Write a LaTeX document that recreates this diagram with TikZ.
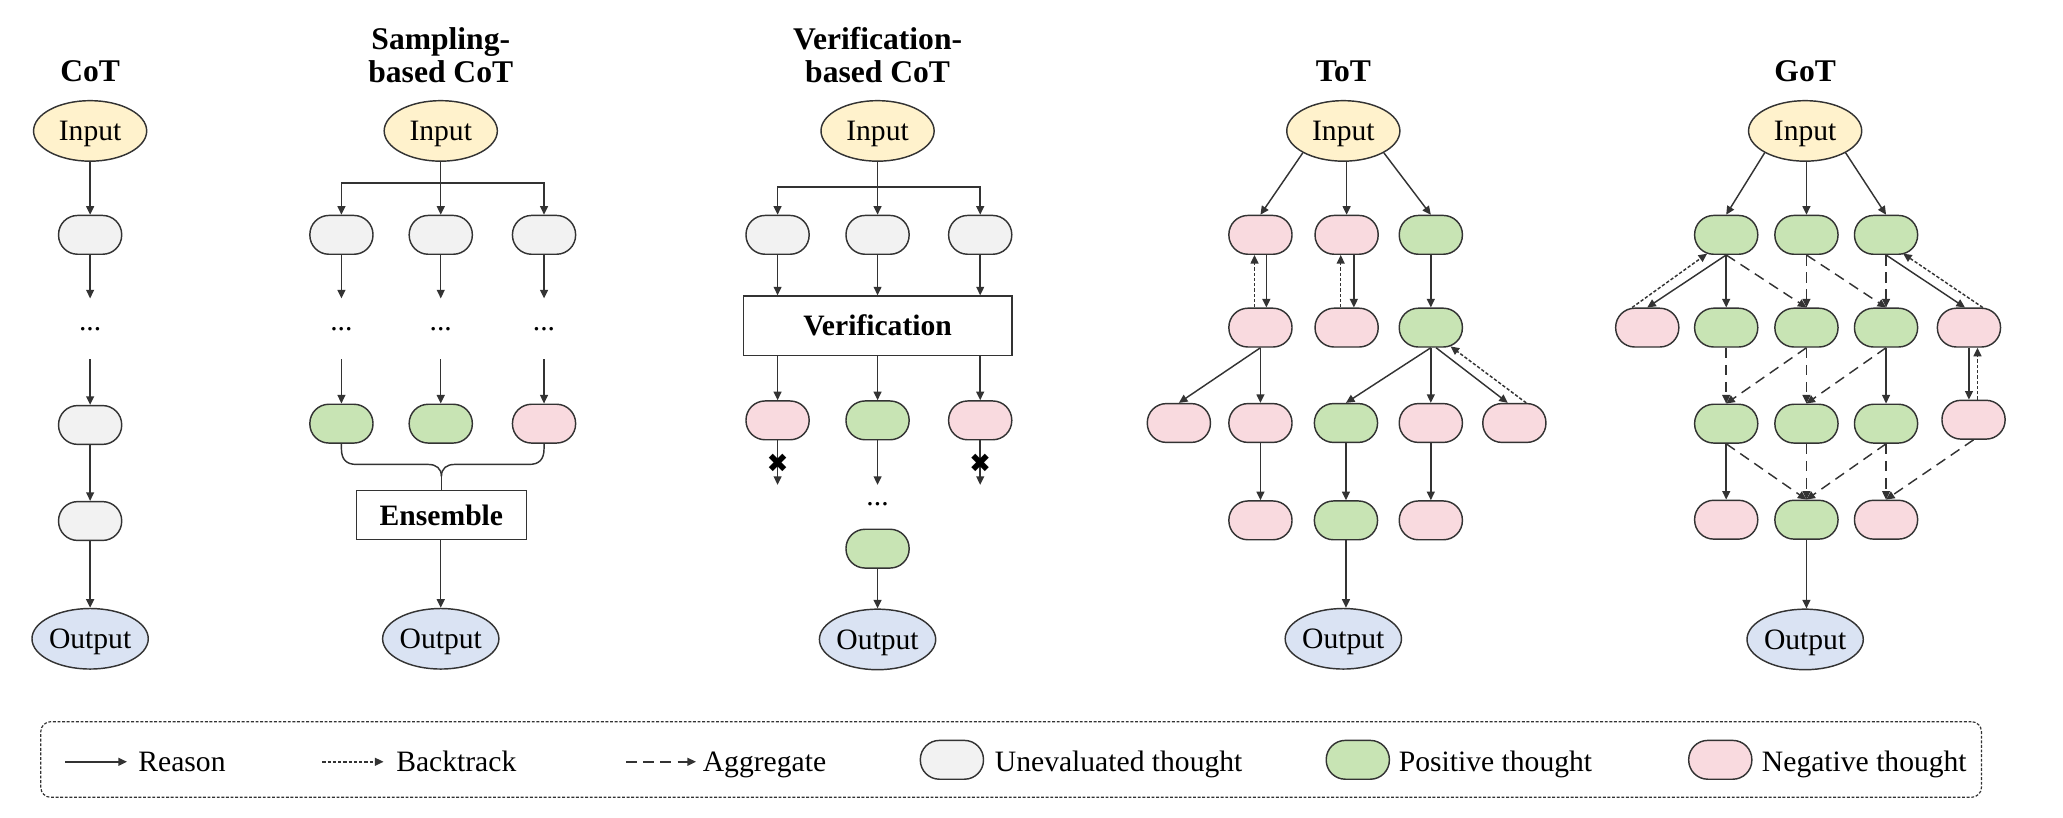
\documentclass[tikz,border=0pt]{standalone}
\usepackage{fontspec}
\setmainfont{Liberation Serif}
\newfontfamily\symfont{DejaVu Sans}
\usetikzlibrary{shapes.geometric,arrows.meta,calc}
\definecolor{dk}{HTML}{333333}
\definecolor{yellowf}{HTML}{FFF2CC}
\definecolor{bluef}{HTML}{DAE3F3}
\definecolor{grayf}{HTML}{F2F2F2}
\definecolor{greenf}{HTML}{C8E4B4}
\definecolor{pinkf}{HTML}{F9DADF}
\newcommand\myfs[1]{\fontsize{#1}{#1}\selectfont}
\tikzset{
  thought/.style={rectangle, rounded corners=14.5pt, minimum width=48pt, minimum height=29.5pt, inner sep=0pt, draw=dk, line width=1.1pt},
  unev/.style={thought, fill=grayf},
  posn/.style={thought, fill=greenf},
  negn/.style={thought, fill=pinkf},
  ell/.style={ellipse, draw=dk, line width=1.1pt, minimum width=86pt, minimum height=46pt, inner sep=0pt, text depth=0pt, font=\myfs{22.5}},
  inp/.style={ell, fill=yellowf},
  outp/.style={ell, fill=bluef},
  ttl/.style={font=\bfseries\fontsize{24}{25}\selectfont, align=center, inner sep=0pt},
  boxn/.style={rectangle, draw=dk, line width=1.1pt, fill=white, inner sep=0pt, font=\bfseries\myfs{22.5}},
  dotsn/.style={inner sep=0pt, minimum height=46pt, font=\myfs{22.5}},
  plain/.style={draw=dk, line width=1.1pt},
  arr/.style={plain, -{Triangle[length=6.5pt,width=6pt]}},
  backtr/.style={arr, dash pattern=on 2.5pt off 1.5pt},
  aggr/.style={arr, dash pattern=on 8pt off 5pt},
  xmark/.style={inner sep=0pt, font=\symfont\myfs{20}},
  legtext/.style={anchor=base west, inner sep=0pt, font=\myfs{22.5}},
}
\begin{document}
\begin{tikzpicture}[x=1pt,y=-1pt]
\useasboundingbox (0,0) rectangle (1568,621);

% ---------------- CoT ----------------
\node[ttl, anchor=base] (tcot) at (68.5,62) {CoT};
\node[inp] (cin) at (68.5,99.5) {Input};
\node[unev] (c1) at (68.5,178.5) {};
\node[dotsn] (cd) at (68.5,250) {...};
\node[unev] (c2) at (68.5,323) {};
\node[unev] (c3) at (68.5,396) {};
\node[outp] (cout) at (68.5,485.5) {Output};
\draw[arr] (cin.south) -- (c1.north);
\draw[arr] (c1.south) -- (cd.north);
\draw[arr] (cd.south) -- (c2.north);
\draw[arr] (c2.south) -- (c3.north);
\draw[arr] (c3.south) -- (cout.north);

% ---------------- Sampling-based CoT ----------------
\node[ttl, anchor=base] (tsamp) at (335,63) {Sampling-\\based CoT};
\node[inp] (sin) at (335,99.5) {Input};
\coordinate (sbar) at (335,139);
\node[unev] (s1) at (259.5,178.5) {};
\node[unev] (s2) at (335,178.5) {};
\node[unev] (s3) at (413.5,178.5) {};
\node[dotsn] (sd1) at (259.5,250) {...};
\node[dotsn] (sd2) at (335,250) {...};
\node[dotsn] (sd3) at (413.5,250) {...};
\node[posn] (sg1) at (259.5,322) {};
\node[posn] (sg2) at (335,322) {};
\node[negn] (sp3) at (413.5,322) {};
\node[boxn, minimum width=129pt, minimum height=37pt] (ens) at (335.5,391.5) {Ensemble};
\node[outp] (sout) at (335,485.5) {Output};
\draw[arr] (sin.south) -- (s2.north);
\draw[arr] (sbar) -| (s1.north);
\draw[arr] (sbar) -| (s3.north);
\foreach \i in {1,2,3}{
  \draw[arr] (s\i.south) -- (sd\i.north);
}
\draw[arr] (sd1.south) -- (sg1.north);
\draw[arr] (sd2.south) -- (sg2.north);
\draw[arr] (sd3.south) -- (sp3.north);
\coordinate (cusp) at (335.5,362);
\draw[plain] (sg1.south) -- (259.5,341) .. controls (259.5,349) and (263,353) .. (271,353) -- (325.5,353) .. controls (331.5,353) and (335.5,356) .. (cusp);
\draw[plain] (sp3.south) -- (413.5,341) .. controls (413.5,349) and (410,353) .. (402,353) -- (345.5,353) .. controls (339.5,353) and (335.5,356) .. (cusp);
\draw[plain] (cusp) -- (ens.north);
\draw[arr] (ens.south -| sout.north) -- (sout.north);

% ---------------- Verification-based CoT ----------------
\node[ttl, anchor=base] (tver) at (667,63) {Verification-\\based CoT};
\node[inp] (vin) at (667,99.5) {Input};
\coordinate (vbar) at (667,142);
\node[unev] (v1) at (591,178.5) {};
\node[unev] (v2) at (667,178.5) {};
\node[unev] (v3) at (745,178.5) {};
\node[boxn, minimum width=204pt, minimum height=45pt] (vbox) at (667,247.5) {Verification};
\node[negn] (vp1) at (591,319.5) {};
\node[posn] (vg2) at (667,319.5) {};
\node[negn] (vp3) at (745,319.5) {};
\coordinate (ve1) at (591,368.5);
\coordinate (ve2) at (667,368.5);
\coordinate (ve3) at (745,368.5);
\node[dotsn, minimum height=0pt] (vd) at (667,383) {...};
\node[posn] (vg4) at (667,417) {};
\node[outp] (vout) at (667,486) {Output};
\draw[arr] (vin.south) -- (v2.north);
\draw[arr] (vbar) -| (v1.north);
\draw[arr] (vbar) -| (v3.north);
\foreach \n in {v1,v2,v3}{
  \draw[arr] (\n.south) -- (\n.south |- vbox.north);
}
\foreach \n in {vp1,vg2,vp3}{
  \draw[arr] (vbox.south -| \n.north) -- (\n.north);
}
\draw[arr] (vp1.south) -- (ve1);
\draw[arr] (vg2.south) -- (ve2);
\draw[arr] (vp3.south) -- (ve3);
\node[xmark] (x1) at (591,352) {✖};
\node[xmark] (x3) at (745,352) {✖};
\draw[arr] (vg4.south) -- (vout.north);

% ---------------- ToT ----------------
\node[ttl, anchor=base] (ttot) at (1021,62) {ToT};
\node[inp] (tin) at (1021,99.5) {Input};
\node[negn] (t1a) at (958,178.5) {};
\node[negn] (t1b) at (1023.5,178.5) {};
\node[posn] (t1c) at (1087.5,178.5) {};
\node[negn] (t2a) at (958,249) {};
\node[negn] (t2b) at (1023.5,249) {};
\node[posn] (t2c) at (1087.5,249) {};
\node[negn] (t3a) at (896,321.5) {};
\node[negn] (t3b) at (958,321.5) {};
\node[posn] (t3c) at (1023,321.5) {};
\node[negn] (t3d) at (1087.5,321.5) {};
\node[negn] (t3e) at (1151,321.5) {};
\node[negn] (t4a) at (958,395.5) {};
\node[posn] (t4b) at (1023,395.5) {};
\node[negn] (t4c) at (1087.5,395.5) {};
\node[outp] (tout) at (1021,485.5) {Output};
\draw[arr] (tin.south west) -- (t1a.north);
\draw[arr] (t1b.north |- tin.south) -- (t1b.north);
\draw[arr] (tin.south east) -- (t1c.north);
\draw[arr] ([xshift=4.5pt]t1a.south) -- ([xshift=4.5pt]t2a.north);
\draw[backtr] ([xshift=-4.5pt]t2a.north) -- ([xshift=-4.5pt]t1a.south);
\draw[arr] ([xshift=5.5pt]t1b.south) -- ([xshift=5.5pt]t2b.north);
\draw[backtr] ([xshift=-4.5pt]t2b.north) -- ([xshift=-4.5pt]t1b.south);
\draw[arr] (t1c.south) -- (t2c.north);
\draw[arr] (t2a.south) -- (t3a.north);
\draw[arr] (t2a.south) -- (t3b.north);
\draw[arr] (t2c.south) -- (t3c.north);
\draw[arr] (t2c.south) -- (t3d.north);
\draw[arr] ([xshift=4pt]t2c.south) -- ([xshift=-5pt]t3e.north);
\draw[backtr] ([xshift=9pt]t3e.north) -- ([xshift=15pt,yshift=1pt]t2c.south);
\draw[arr] (t3b.south) -- (t4a.north);
\draw[arr] (t3c.south) -- (t4b.north);
\draw[arr] (t3d.south) -- (t4c.north);
\draw[arr] (t4b.south) -- (t4b.south |- tout.north);

% ---------------- GoT ----------------
\node[ttl, anchor=base] (tgot) at (1372,62) {GoT};
\node[inp] (gin) at (1372,99.5) {Input};
\node[posn] (g1a) at (1312,178.5) {};
\node[posn] (g1b) at (1373,178.5) {};
\node[posn] (g1c) at (1433.5,178.5) {};
\node[negn] (g2a) at (1252,249) {};
\node[posn] (g2b) at (1312,249) {};
\node[posn] (g2c) at (1373,249) {};
\node[posn] (g2d) at (1433.5,249) {};
\node[negn] (g2e) at (1496.5,249) {};
\node[posn] (g3a) at (1312,322) {};
\node[posn] (g3b) at (1373,322) {};
\node[posn] (g3c) at (1433.5,322) {};
\node[negn] (g3d) at (1500,319) {};
\node[negn] (g4a) at (1312,395) {};
\node[posn] (g4b) at (1373,395) {};
\node[negn] (g4c) at (1433.5,395) {};
\node[outp] (gout) at (1372,486) {Output};
\draw[arr] (gin.south west) -- (g1a.north);
\draw[arr] (g1b.north |- gin.south) -- (g1b.north);
\draw[arr] (gin.south east) -- (g1c.north);
\draw[arr] (g1a.south) -- (g2a.north);
\draw[backtr] ([xshift=-11.5pt]g2a.north) -- ([xshift=-14.5pt,yshift=1pt]g1a.south);
\draw[arr] (g1a.south) -- (g2b.north);
\draw[aggr] (g1a.south) -- (g2c.north);
\draw[aggr] (g1b.south) -- (g2c.north);
\draw[aggr] (g1b.south) -- (g2d.north);
\draw[aggr] (g1c.south) -- (g2d.north);
\draw[arr] (g1c.south) -- ([xshift=-3pt]g2e.north);
\draw[backtr] ([xshift=10.5pt]g2e.north) -- ([xshift=13pt,yshift=1pt]g1c.south);
\draw[aggr] (g2b.south) -- (g3a.north);
\draw[aggr] (g2c.south) -- (g3a.north);
\draw[aggr] (g2c.south) -- (g3b.north);
\draw[aggr] (g2d.south) -- (g3b.north);
\draw[arr] (g2d.south) -- (g3c.north);
\draw[arr] (g2e.south) -- (g2e.south |- g3d.north);
\draw[backtr] ([xshift=3pt]g3d.north) -- ([xshift=3pt]g3d.north |- g2e.south);
\draw[arr] (g3a.south) -- (g4a.north);
\draw[aggr] (g3a.south) -- (g4b.north);
\draw[aggr] (g3b.south) -- (g4b.north);
\draw[aggr] (g3c.south) -- (g4b.north);
\draw[aggr] (g3c.south) -- (g4c.north);
\draw[aggr] (g3d.south) -- (g4c.north);
\draw[arr] (g4b.south) -- (g4b.south |- gout.north);

% ---------------- Legend ----------------
\node[draw=dk, line width=0.9pt, dash pattern=on 2.2pt off 1.3pt, rounded corners=7.6pt, minimum width=1475pt, minimum height=57.5pt, inner sep=0pt] (leg) at (768.5,577.25) {};
\coordinate (lr1) at (49.5,579);
\coordinate (lr2) at (96.5,579);
\draw[arr] (lr1) -- (lr2);
\node[legtext] (lrt) at (105,586.5) {Reason};
\coordinate (lb1) at (245,579);
\coordinate (lb2) at (291.5,579);
\draw[backtr] (lb1) -- (lb2);
\node[legtext] (lbt) at (301,586.5) {Backtrack};
\coordinate (la1) at (476,579);
\coordinate (la2) at (529,579);
\draw[aggr] (la1) -- (la2);
\node[legtext] (lat) at (534,586.5) {Aggregate};
\node[unev] (lu) at (723.5,577.5) {};
\node[legtext] (lut) at (756,586.5) {Unevaluated thought};
\node[posn] (lp) at (1032,577.5) {};
\node[legtext] (lpt) at (1063,586.5) {Positive thought};
\node[negn] (ln) at (1307.5,577.5) {};
\node[legtext] (lnt) at (1339,586.5) {Negative thought};
\end{tikzpicture}
\end{document}
